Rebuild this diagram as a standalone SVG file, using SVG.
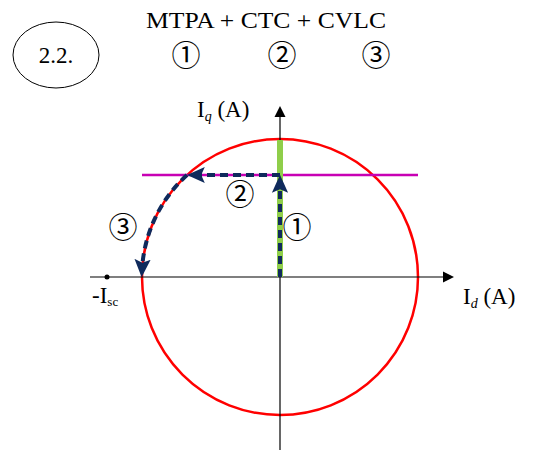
<svg xmlns="http://www.w3.org/2000/svg" width="533" height="450" viewBox="0 0 533 450">
<defs>
<style>
text{font-family:"Liberation Serif","DejaVu Serif",serif;fill:#000}
.t{font-size:23px}
.c{font-size:29px;font-family:"Noto Sans CJK JP","DejaVu Sans",sans-serif}
.ax{stroke:#000;stroke-width:1.2;fill:none}
.path{stroke:#0f2a5c;stroke-width:4;stroke-dasharray:8,5;fill:none}
</style>
<marker id="ah" viewBox="0 0 10 10" refX="0" refY="5" markerWidth="11" markerHeight="13" markerUnits="userSpaceOnUse" orient="auto"><path d="M0,0 L10,5 L0,10 z" fill="#000"/></marker>
<marker id="bh" viewBox="0 0 10 10" refX="6" refY="5" markerWidth="18" markerHeight="18" markerUnits="userSpaceOnUse" orient="auto"><path d="M0,0.5 L10,5 L0,9.5 L2,5 z" fill="#0f2a5c"/></marker>
</defs>
<g id="label">
<ellipse cx="56" cy="55" rx="43" ry="33" fill="none" stroke="#000" stroke-width="1"/>
<text x="56" y="63" class="t" text-anchor="middle">2.2.</text>
</g>
<g id="title">
<text x="266" y="28" class="t" text-anchor="middle" textLength="240" lengthAdjust="spacingAndGlyphs">MTPA + CTC + CVLC</text>
<text x="186" y="66" class="c" text-anchor="middle">①</text>
<text x="282" y="66" class="c" text-anchor="middle">②</text>
<text x="376" y="66" class="c" text-anchor="middle">③</text>
</g>
<g id="circle"><circle cx="280" cy="277" r="138" fill="none" stroke="#f00" stroke-width="2.5"/></g>
<g id="cvl"><line x1="142" y1="175" x2="418" y2="175" stroke="#c800b4" stroke-width="2.5"/></g>
<g id="axes">
<line x1="90" y1="277" x2="443" y2="277" class="ax" marker-end="url(#ah)"/>
<line x1="280" y1="450" x2="280" y2="117" class="ax" marker-end="url(#ah)"/>
<text x="197" y="117" class="t" font-size="21">I<tspan font-size="14" font-style="italic" dy="4">q</tspan><tspan dy="-4"> (A)</tspan></text>
<text x="463" y="304" class="t" font-size="21">I<tspan font-size="14" font-style="italic" dy="4">d</tspan><tspan dy="-4"> (A)</tspan></text>
<circle cx="107" cy="277" r="2.5" fill="#000"/>
<text x="92" y="303" class="t" font-size="19">-I<tspan font-size="13" dy="3">sc</tspan></text>
</g>
<g id="mtpa"><line x1="280" y1="140" x2="280" y2="277" stroke="#8fce4a" stroke-width="6"/></g>
<g id="connectors">
<line x1="280" y1="277" x2="280" y2="182" class="path" marker-end="url(#bh)"/>
<line x1="280" y1="175" x2="194" y2="175" class="path" marker-end="url(#bh)"/>
<path d="M187,175 A138,138 0 0 0 142,270" class="path" marker-end="url(#bh)"/>
</g>
<g id="steps">
<text x="240" y="205" class="c" text-anchor="middle">②</text>
<text x="123" y="238" class="c" text-anchor="middle">③</text>
<text x="297" y="238" class="c" text-anchor="middle">①</text>
</g>
</svg>
